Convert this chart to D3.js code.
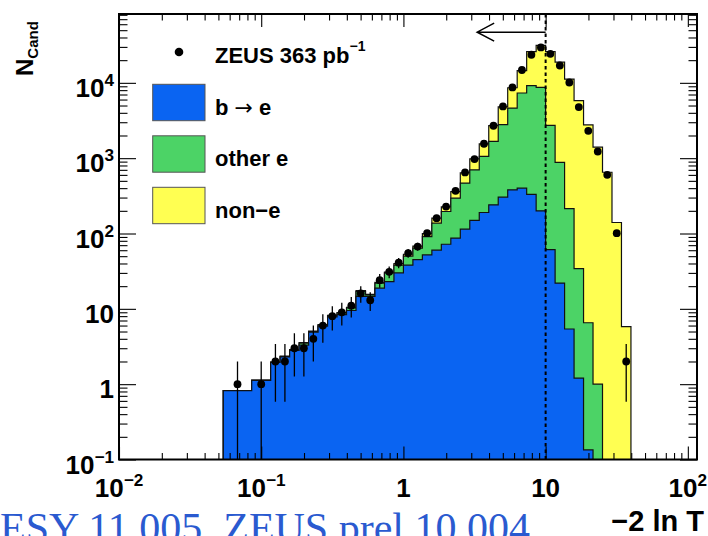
<!DOCTYPE html>
<html>
<head>
<meta charset="utf-8">
<script src="https://cdn.jsdelivr.net/npm/d3@7"></script>
<style>
  body { margin: 0; background: #fff; }
  svg { display: block; }
  text { font-family: "Liberation Sans", Arial, Helvetica, sans-serif; font-weight: bold; }
</style>
</head>
<body>
<svg id="chart" width="708" height="536"></svg>
<script>
// Bin edges in -2 ln T (15 bins per decade; the two lowest bins are merged)
const binEdges = [0.05412, 0.08577, 0.11659, 0.13594, 0.15849, 0.18478, 0.21544, 0.25119,
  0.29286, 0.34145, 0.39811, 0.46416, 0.54117, 0.63096, 0.73564, 0.85770, 1.0, 1.16591,
  1.35936, 1.58489, 1.84785, 2.15443, 2.51189, 2.92864, 3.41455, 3.98107, 4.64159, 5.41170,
  6.30957, 7.35642, 8.57696, 10.0, 11.65914, 13.59356, 15.84893, 18.47850, 21.54435,
  25.11886, 29.28645, 34.14549, 39.81072];

// ZEUS candidates per bin
const dataCounts = [1, 1, 2, 2, 3, 3, 4, 6, 8, 9, 11, 16, 13, 24, 31, 41, 55, 67, 101, 160,
  228, 369, 646, 973, 1553, 2693, 4860, 8690, 14800, 23600, 29500, 24300, 17000, 10100,
  4770, 2310, 1227, 602, 101, 2];

// Monte Carlo components per bin (stacked: b->e, other e, non-e)
const bToE = [0.82, 1.12, 1.94, 2.3, 2.8, 3.3, 4.9, 5.9, 7.8, 8.4, 9.5, 14.6, 14.6, 18.8, 23,
  30, 38, 45, 52, 60, 72, 87, 114, 149, 190, 240, 304, 380, 400, 330, 200, 61, 22, 5.4, 1.2,
  0.134, 0, 0, 0, 0];
const otherE = [0, 0, 0.02, 0.03, 0.05, 0.2, 0.1, 0.2, 0.3, 0.4, 0.8, 2.4, 0.7, 3.2, 7, 8, 12,
  19, 39, 77, 124, 208, 353, 552, 864, 1430, 2480, 4250, 6930, 8870, 8500, 2670, 858, 209,
  33, 6.4, 1.0, 0, 0, 0];
const nonE = [0, 0.01, 0.01, 0.02, 0.03, 0.05, 0.05, 0.1, 0.1, 0.1, 0.2, 0.5, 0.3, 0.5, 0.7, 2,
  3, 4, 9, 23, 29, 65, 173, 279, 496, 1030, 2020, 3980, 7170, 16800, 22800, 23300, 17900,
  11000, 5770, 2760, 1400, 650, 140, 5.8];

// Axis ticks and labels: [base, exponent]
const xTickValues = [0.01, 0.1, 1, 10, 100];
const xTickLabels = [["10", "\u22122"], ["10", "\u22121"], ["1", ""], ["10", ""], ["10", "2"]];
const yTickValues = [0.1, 1, 10, 100, 1000, 10000];
const yTickLabels = [["10", "\u22121"], ["1", ""], ["10", ""], ["10", "2"], ["10", "3"], ["10", "4"]];

const legendItems = [
  { key: "bToE", label: ["b ", "\u2192", " e"], color: "#0a64f2" },
  { key: "otherE", label: ["other e"], color: "#4cd366" },
  { key: "nonE", label: ["non\u2212e"], color: "#ffff52" }
];
const cutValue = 10;        // selection cut on -2 ln T
const arrowTip = 3.3;       // arrow points towards lower -2 ln T
const arrowLevel = 47000;

const svg = d3.select("#chart");
const P = { l: 119, r: 697, t: 14, b: 459.5 };

const x = d3.scaleLog().domain([0.01, 116]).range([P.l, P.r]);
const y = d3.scaleLog().domain([0.1, 82000]).range([P.b, P.t]);

svg.append("defs").append("clipPath").attr("id", "plotclip")
  .append("rect").attr("x", P.l).attr("y", P.t).attr("width", P.r - P.l).attr("height", P.b - P.t);

// Stack the MC components
const rows = bToE.map((b, i) => ({ bToE: b, otherE: otherE[i], nonE: nonE[i] }));
const stacked = d3.stack().keys(["bToE", "otherE", "nonE"])(rows);

const yv = v => (v > 0 ? Math.min(y(v), P.b + 3) : P.b + 3);
function stepPath(tops) {
  let p = `M${x(binEdges[0])},${P.b + 3}`;
  tops.forEach((v, i) => {
    p += `L${x(binEdges[i])},${yv(v)}L${x(binEdges[i + 1])},${yv(v)}`;
  });
  p += `L${x(binEdges[binEdges.length - 1])},${P.b + 3}Z`;
  return p;
}

const hist = svg.append("g").attr("clip-path", "url(#plotclip)");
// draw the outermost (total) layer first so inner layers sit on top
[2, 1, 0].forEach(li => {
  const tops = stacked[li].map(d => d[1]);
  hist.append("path")
    .attr("d", stepPath(tops))
    .attr("fill", legendItems[li].color)
    .attr("stroke", "#111")
    .attr("stroke-width", 1.2)
    .attr("stroke-linejoin", "miter");
});

// Cut line and arrow
const over = svg.append("g").attr("clip-path", "url(#plotclip)");
over.append("line")
  .attr("x1", x(cutValue)).attr("x2", x(cutValue))
  .attr("y1", P.t).attr("y2", P.b)
  .attr("stroke", "#000").attr("stroke-width", 2)
  .attr("stroke-dasharray", "3.5,3");
const ay = y(arrowLevel), ax0 = x(cutValue), ax1 = x(arrowTip);
over.append("path")
  .attr("d", `M${ax0},${ay}L${ax1},${ay}M${ax1 + 17},${ay - 9}L${ax1},${ay}L${ax1 + 17},${ay + 9}`)
  .attr("fill", "none").attr("stroke", "#000").attr("stroke-width", 1.5);

// Data points with statistical errors
const pts = dataCounts.map((n, i) => ({
  xc: Math.sqrt(binEdges[i] * binEdges[i + 1]), n, err: Math.sqrt(n)
}));
const dg = svg.append("g").attr("clip-path", "url(#plotclip)");
dg.selectAll("line.err").data(pts).join("line")
  .attr("class", "err")
  .attr("x1", d => x(d.xc)).attr("x2", d => x(d.xc))
  .attr("y1", d => yv(d.n - d.err)).attr("y2", d => y(d.n + d.err))
  .attr("stroke", "#000").attr("stroke-width", 1.3);
dg.selectAll("circle").data(pts).join("circle")
  .attr("cx", d => x(d.xc)).attr("cy", d => y(d.n)).attr("r", 3.9)
  .attr("fill", "#000");

// Axes: ticks on all four sides, pointing inwards
const isMajor = d => Math.abs(Math.log10(d) - Math.round(Math.log10(d))) < 1e-6;
function styleAxis(g) {
  g.select(".domain").remove();
  g.selectAll(".tick text").remove();
  g.selectAll(".tick line").attr("stroke", "#000").attr("stroke-width", 1.1);
}
const xt = x.ticks(), ytks = y.ticks();
const gb = svg.append("g").attr("transform", `translate(0,${P.b})`)
  .call(d3.axisBottom(x).tickValues(xt).tickSize(-13).tickFormat(""));
styleAxis(gb); gb.selectAll(".tick line").attr("y2", d => isMajor(d) ? -13 : -6.5);
const gt = svg.append("g").attr("transform", `translate(0,${P.t})`)
  .call(d3.axisTop(x).tickValues(xt).tickSize(-13).tickFormat(""));
styleAxis(gt); gt.selectAll(".tick line").attr("y2", d => isMajor(d) ? 13 : 6.5);
const gl = svg.append("g").attr("transform", `translate(${P.l},0)`)
  .call(d3.axisLeft(y).tickValues(ytks).tickSize(-17).tickFormat(""));
styleAxis(gl); gl.selectAll(".tick line").attr("x2", d => isMajor(d) ? 17 : 8.5);
const gr = svg.append("g").attr("transform", `translate(${P.r},0)`)
  .call(d3.axisRight(y).tickValues(ytks).tickSize(-17).tickFormat(""));
styleAxis(gr); gr.selectAll(".tick line").attr("x2", d => isMajor(d) ? -17 : -8.5);

svg.append("rect")
  .attr("x", P.l).attr("y", P.t).attr("width", P.r - P.l).attr("height", P.b - P.t)
  .attr("fill", "none").attr("stroke", "#000").attr("stroke-width", 2);

// Tick labels with exponents
function powerLabel(sel, lab, size) {
  sel.append("tspan").attr("font-size", size).text(lab[0]);
  if (lab[1]) sel.append("tspan").attr("font-size", size * 0.66).attr("dy", -size * 0.42).text(lab[1]);
}
xTickValues.forEach((v, i) => {
  const t = svg.append("text").attr("x", x(v)).attr("y", 497).attr("text-anchor", "middle");
  powerLabel(t, xTickLabels[i], 26);
});
yTickValues.forEach((v, i) => {
  const t = svg.append("text").attr("x", 114).attr("y", y(v) + 14).attr("text-anchor", "end");
  powerLabel(t, yTickLabels[i], 26);
});

// Axis titles
svg.append("text").attr("x", 704).attr("y", 531).attr("text-anchor", "end")
  .attr("font-size", 29).text("\u22122 ln T");
const yt = svg.append("text").attr("transform", "translate(33,76) rotate(-90)");
yt.append("tspan").attr("font-size", 24).text("N");
yt.append("tspan").attr("font-size", 15).attr("dy", 5).text("Cand");

// Legend
const lg = svg.append("g");
lg.append("circle").attr("cx", 179).attr("cy", 52).attr("r", 4.3).attr("fill", "#000");
const lt = lg.append("text").attr("x", 215).attr("y", 63).attr("font-size", 22);
lt.append("tspan").text("ZEUS 363 pb");
lt.append("tspan").attr("font-size", 14).attr("dy", -12).text("\u22121");
legendItems.forEach((it, i) => {
  const top = 84.3 + i * 51.5;
  lg.append("rect").attr("x", 152.7).attr("y", top).attr("width", 52.3).attr("height", 36.4)
    .attr("fill", it.color).attr("stroke", "#555").attr("stroke-width", 1);
  const t = lg.append("text").attr("x", 215).attr("y", top + 30.5).attr("font-size", 22);
  it.label.forEach(part => {
    const s = t.append("tspan").text(part);
    if (part === "\u2192") s.style("font-family", "'DejaVu Sans', sans-serif").style("font-weight", "normal");
  });
});

// Reference line at the page foot
svg.append("text").attr("x", 0).attr("y", 542)
  .style("font-family", "'Liberation Serif', 'Times New Roman', serif")
  .style("font-weight", "normal")
  .attr("font-size", 42).attr("fill", "#2a5ad0")
  .text("ESY 11 005, ZEUS prel 10 004");
</script>
</body>
</html>
